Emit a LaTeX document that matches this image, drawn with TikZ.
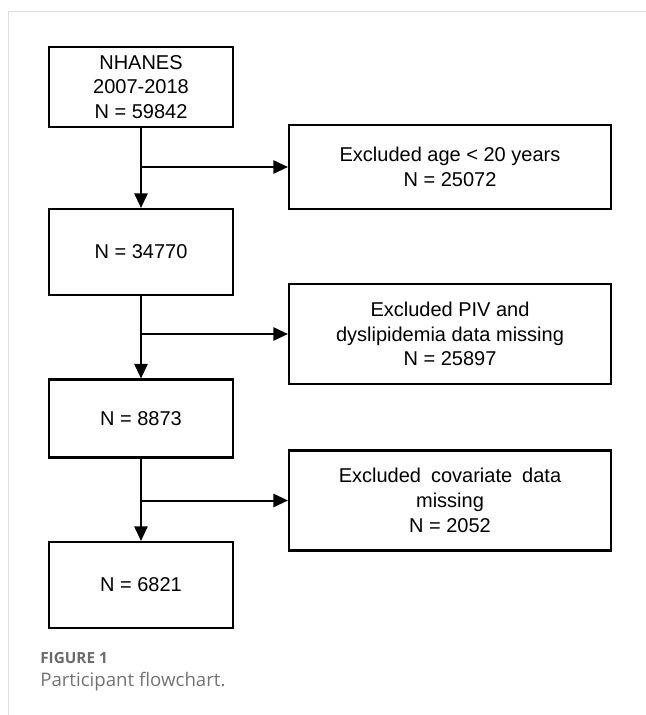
\documentclass[tikz,border=0pt]{standalone}
\usepackage{fontspec}
\setmainfont{Liberation Sans}
\newfontfamily\captionfont{Open Sans}
\usepackage{tikz}
\usetikzlibrary{positioning,arrows.meta,calc}

\begin{document}
\begin{tikzpicture}[x=0.75pt,y=0.75pt,yscale=-1,xscale=1,
    mainbox/.style={draw,line width=1.6pt,minimum width=138pt,align=center,inner sep=0.75pt,
        font=\fontsize{15}{18.6}\selectfont},
    sidebox/.style={mainbox,minimum width=241.5pt},
    flowarrow/.style={line width=1.5pt,-{Triangle[length=11pt,width=10pt]}}]
    %set diagram frame 646 x 715
    \useasboundingbox (0,0) rectangle (646,715);
    \draw [color=black!13, line width=0.75pt] (8.5,715) -- (8.5,11.5) -- (646,11.5);
    % Main boxes
    \node [mainbox, minimum height=60pt] (nhanes) at (141,87) {NHANES\\2007-2018\\N = 59842};
    \node [mainbox, minimum height=64.5pt] (adults) at (141,252) {N = 34770};
    \node [mainbox, minimum height=58.5pt] (complete) at (141,418.5) {N = 8873};
    \node [mainbox, minimum height=64.5pt] (final) at (141,585) {N = 6821};
    % Exclusion boxes
    \node [sidebox, minimum height=63pt] (exage) at (450,167) {Excluded age \textless{} 20 years\\N = 25072};
    \node [sidebox, minimum height=75pt] (expiv) at (450,334) {Excluded PIV and\\dyslipidemia data missing\\N = 25897};
    \node [sidebox, minimum height=75pt] (excov) at (450,500.5) {Excluded\hspace{0.5em}covariate\hspace{0.5em}data\\missing\\N = 2052};
    %branch points
    \coordinate (split1) at (nhanes.south |- exage.west);
    \coordinate (split2) at (adults.south |- expiv.west);
    \coordinate (split3) at (complete.south |- excov.west);
    %Straight Lines
    \draw [flowarrow] (nhanes) -- (adults);
    \draw [flowarrow] (adults) -- (complete);
    \draw [flowarrow] (complete) -- (final);
    \draw [flowarrow] (split1) -- (exage);
    \draw [flowarrow] (split2) -- (expiv);
    \draw [flowarrow] (split3) -- (excov);
    % Text Node
    \node [anchor=base west, inner sep=0pt, text=black!58, font=\captionfont\bfseries\fontsize{11.5}{14}\selectfont] (figlabel) at (40,663) {FIGURE 1};
    \node [anchor=base west, inner sep=0pt, text=black!55, font=\captionfont\fontsize{14}{17}\selectfont] (figcaption) at (40,686.5) {Participant flowchart.};
\end{tikzpicture}
\end{document}
